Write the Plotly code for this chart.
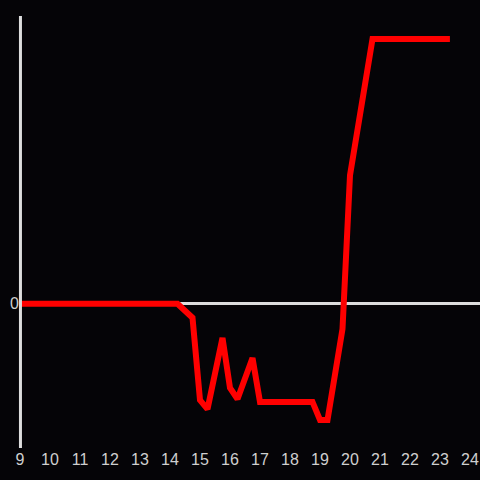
import plotly.graph_objects as go

hours = [9.0, 14.25, 14.75, 15.0, 15.25, 15.75, 16.0, 16.25, 16.75, 17.0,
         18.75, 19.0, 19.25, 19.75, 20.0, 20.75, 23.33]
values = [0, 0, -5.3, -36.4, -39.8, -12.9, -31.8, -36.0, -20.5, -37.1,
          -37.1, -43.9, -43.9, -9.5, 48.5, 100, 100]
x_ticks = list(range(9, 25))
y_ticks = [0]

BG = "#050407"
AXIS = "#dddddd"
TXT = "#cfcfcf"
FONT = "Liberation Sans Narrow, Arial Narrow, Liberation Sans, sans-serif"

fig = go.Figure()
fig.add_trace(go.Scatter(x=hours, y=values, mode="lines",
                         line=dict(color="#ff0000", width=6), hoverinfo="skip"))

# vertical axis line at the left edge of the plot, over the data (paper refs are not clipped)
fig.add_shape(type="line", xref="paper", yref="paper", x0=0.001, x1=0.001,
              y0=0, y1=1, line=dict(color=AXIS, width=3), layer="above")

fig.update_layout(
    width=480, height=480,
    paper_bgcolor=BG, plot_bgcolor=BG,
    margin=dict(l=20, r=0, t=16, b=32, pad=0),
    showlegend=False,
    font=dict(family=FONT, size=16, color=TXT),
    xaxis=dict(range=[9, 24 + 10 / 30], tickvals=x_ticks, ticktext=[str(t) for t in x_ticks],
               showgrid=False, zeroline=False, showline=False, ticks="",
               tickfont=dict(family=FONT, size=16, color=TXT)),
    yaxis=dict(range=[-54.5, 108.7], tickvals=y_ticks, ticktext=["0"],
               showgrid=False, zeroline=True, zerolinecolor=AXIS, zerolinewidth=3,
               showline=False, ticks="",
               tickfont=dict(family=FONT, size=16, color=TXT)),
)

fig.write_html(
    "out.html",
    config={"displayModeBar": False},
    post_script="document.body.style.margin='0';document.body.style.background='%s';"
                "document.documentElement.style.overflow='hidden';" % BG,
)
